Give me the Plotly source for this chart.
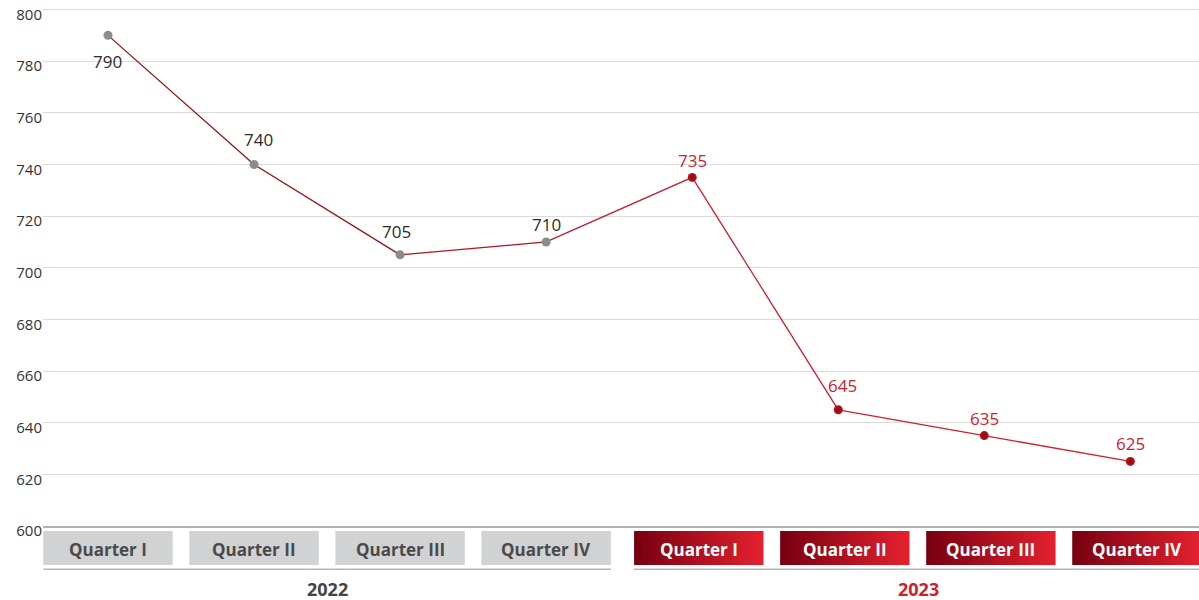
import plotly.graph_objects as go

quarters = ["Quarter I", "Quarter II", "Quarter III", "Quarter IV",
            "Quarter I", "Quarter II", "Quarter III", "Quarter IV"]
years = ["2022", "2023"]
values_2022 = [790, 740, 705, 710]
values_2023 = [735, 645, 635, 625]
y_ticks = [600, 620, 640, 660, 680, 700, 720, 740, 760, 780, 800]

values = values_2022 + values_2023
xs = list(range(len(values)))
n22 = len(values_2022)

# label offsets in pixels (style, not data)
label_dx = [0, 4, -4, 0, 0, 4, 0, 0]
label_dy = [-26, 25, 23, 17, 17, 24, 17, 18]
seg_colors = ["#8b1414", "#941418", "#b0141e", "#c5182a", "#cc1c2c", "#d01f2e", "#d2202f"]
group_shift = [0.0, 0.045]   # horizontal nudge of each year's box group (style)

RED = "#d0202e"
FONT = "Open Sans"

fig = go.Figure()

# line segments (color shifts from dark red to red)
for i in range(len(values) - 1):
    fig.add_trace(go.Scatter(x=xs[i:i + 2], y=values[i:i + 2], mode="lines",
                             line=dict(color=seg_colors[i], width=1.3),
                             hoverinfo="skip", showlegend=False))
# markers
fig.add_trace(go.Scatter(x=xs[:n22], y=values_2022, mode="markers",
                         marker=dict(color="#8c8c8c", size=9), showlegend=False,
                         hoverinfo="skip"))
fig.add_trace(go.Scatter(x=xs[n22:], y=values_2023, mode="markers",
                         marker=dict(color="#b8121d", size=9,
                                     gradient=dict(type="radial", color="#8a0a12")),
                         showlegend=False, hoverinfo="skip"))
# value labels
for i, v in enumerate(values):
    fig.add_annotation(x=xs[i], y=v, xref="x", yref="y", text=str(v), showarrow=False,
                       xshift=label_dx[i], yshift=label_dy[i],
                       font=dict(family=FONT, size=17,
                                 color="#2b2b2b" if i < n22 else RED))

# category boxes in the lower strip
hw = 0.443
for i, q in enumerate(quarters):
    g = 0 if i < n22 else 1
    c = i + group_shift[g]
    bx = [c - hw, c + hw, c + hw, c - hw, c - hw]
    by = [35, 35, 69, 69, 35]
    if g == 0:
        fig.add_trace(go.Scatter(x=bx, y=by, yaxis="y2", mode="lines", fill="toself",
                                 fillcolor="#d1d2d4", line=dict(width=0),
                                 hoverinfo="skip", showlegend=False))
        col = "#4a4a4a"
    else:
        fig.add_trace(go.Scatter(x=bx, y=by, yaxis="y2", mode="lines", fill="toself",
                                 fillgradient=dict(type="horizontal",
                                                   colorscale=[[0, "#760010"], [1, "#e5212f"]]),
                                 line=dict(width=0), hoverinfo="skip", showlegend=False))
        col = "white"
    fig.add_annotation(x=c, y=51, xref="x", yref="y2", text="<b>%s</b>" % q,
                       showarrow=False, font=dict(family=FONT, size=17, color=col))

# year underlines and labels
groups = [(0, n22 - 1, "#444444"), (n22, len(values) - 1, RED)]
for g, ((a, b, col), yr) in enumerate(zip(groups, years)):
    left = a + group_shift[g] - hw
    right = b + group_shift[g] + hw if b < len(values) - 1 else 7.5
    fig.add_trace(go.Scatter(x=[left, right], y=[30.7, 30.7], yaxis="y2", mode="lines",
                             line=dict(color="#b5b5b5", width=1.5), hoverinfo="skip",
                             showlegend=False))
    fig.add_annotation(x=(left + right) / 2, y=11, xref="x", yref="y2",
                       text="<b>%s</b>" % yr, showarrow=False,
                       font=dict(family=FONT, size=18, color=col))

fig.update_layout(
    width=1199, height=600,
    margin=dict(l=43, r=0, t=8, b=0),
    plot_bgcolor="white", paper_bgcolor="white",
    hovermode=False,
    xaxis=dict(range=[-0.445, 7.47], showgrid=False, zeroline=False,
               showticklabels=False, ticks="", showline=True,
               linecolor="#b0b0b0", linewidth=1.5, anchor="y", automargin=False),
    yaxis=dict(domain=[0.125, 1], range=[600, 800.6], tickvals=y_ticks,
               showgrid=True, gridcolor="#dadada", gridwidth=1, zeroline=False,
               tickfont=dict(family=FONT, size=15, color="#333333"), ticks="",
               ticklabelshift=5, ticklabeloverflow="allow", automargin=False),
    yaxis2=dict(domain=[0, 0.125], range=[0, 74], showgrid=False, zeroline=False,
                showticklabels=False, anchor="x", automargin=False),
)

fig.write_html("out.html", config={"displayModeBar": False},
               post_script="document.body.style.margin='0';")
